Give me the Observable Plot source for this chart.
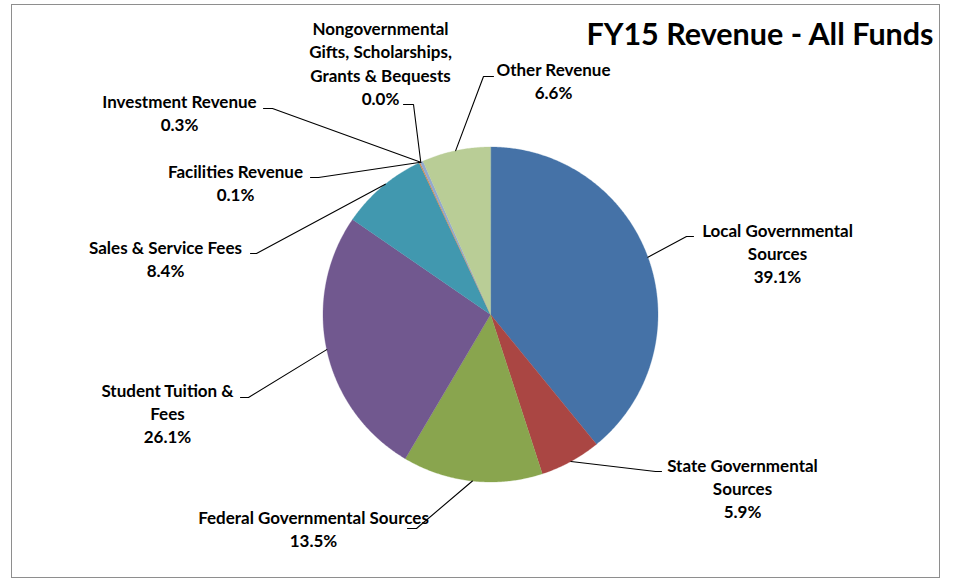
<!DOCTYPE html>
<html>
<head>
<meta charset="utf-8">
<script src="https://cdn.jsdelivr.net/npm/d3@7"></script>
<script src="https://cdn.jsdelivr.net/npm/@observablehq/plot@0.6"></script>
<style>
  html, body { margin: 0; padding: 0; background: #fff; }
  #wrap { position: relative; width: 953px; height: 579px; overflow: hidden; }
  #border { position: absolute; left: 11px; top: 4px; width: 927px; height: 572px; border: 1.5px solid #8e8e8e; box-sizing: content-box; pointer-events: none; }
  #chart { position: absolute; left: 0; top: 0; }
</style>
</head>
<body>
<div id="wrap"><div id="chart"></div><div id="border"></div></div>
<script>
// ---- data ----
const categories = [
  "Local Governmental Sources",
  "State Governmental Sources",
  "Federal Governmental Sources",
  "Student Tuition & Fees",
  "Sales & Service Fees",
  "Facilities Revenue",
  "Investment Revenue",
  "Nongovernmental Gifts, Scholarships, Grants & Bequests",
  "Other Revenue"
];
const shares = [39.1, 5.9, 13.5, 26.1, 8.4, 0.1, 0.3, 0.0, 6.6];
const colors = ["#4572A7", "#AA4643", "#89A54E", "#71588F", "#4198AF", "#DB843D", "#93A9CF", "#D19392", "#B9CD96"];
const titleText = "FY15 Revenue - All Funds";

// ---- layout (label placement, px offsets from pie centre) ----
const labelLayout = [
  {wrap: "Local Governmental\nSources",                 at: 70,    elbow: [196, -78],  end: [203, -78],  pos: [287, -60]},
  {wrap: "State Governmental\nSources",                 at: 151.3, elbow: [165, 157],  end: [171, 157],  pos: [252, 175]},
  {wrap: "Federal Governmental Sources",                at: 186.2, elbow: [-74, 214],  end: [-83, 214],  pos: [-177, 215.5]},
  {wrap: "Student Tuition &\nFees",                     at: 257.9, elbow: [-242, 83],  end: [-250, 83],  pos: [-323, 100]},
  {wrap: "Sales & Service Fees",                        at: 321.1, elbow: [-234, -61], end: [-240, -61], pos: [-325, -54.5]},
  {wrap: "Facilities Revenue",                          at: 335.4, elbow: [-172, -137],end: [-180, -137],pos: [-255, -130.5]},
  {wrap: "Investment Revenue",                          at: 335.4, elbow: [-218, -206],end: [-227, -206],pos: [-311, -200.5]},
  {wrap: "Nongovernmental\nGifts, Scholarships,\nGrants & Bequests", at: 335.4, elbow: [-77, -210], end: [-87, -210], pos: [-110, -250]},
  {wrap: "Other Revenue",                               at: 348,   elbow: [-7, -238],  end: [3, -238],   pos: [63, -232.5]}
];
const W = 953, H = 579, CX = 490, CY = 314, R = 167.5;

// ---- derived geometry ----
const total = d3.sum(shares);
const polar = (deg, r) => [r * Math.sin(deg * Math.PI / 180), -r * Math.cos(deg * Math.PI / 180)];

const slicePts = [];
let acc = 0;
categories.forEach((name, i) => {
  const a0 = acc / total * 360;
  acc += shares[i];
  const a1 = acc / total * 360;
  if (a1 - a0 <= 0) return;
  slicePts.push({name, x: 0, y: 0});
  const n = Math.max(2, Math.ceil((a1 - a0) / 0.5) + 1);
  for (let k = 0; k < n; k++) {
    const a = a0 + (a1 - a0) * k / (n - 1);
    const [x, y] = polar(a, R);
    slicePts.push({name, x, y});
  }
});

const leaderPts = [];
const labels = [];
categories.forEach((name, i) => {
  const L = labelLayout[i];
  const [sx, sy] = polar(L.at, R);
  leaderPts.push({name, x: sx, y: sy});
  leaderPts.push({name, x: L.elbow[0], y: L.elbow[1]});
  leaderPts.push({name, x: L.end[0], y: L.end[1]});
  labels.push({name, x: L.pos[0], y: L.pos[1], text: L.wrap + "\n" + shares[i].toFixed(1) + "%"});
});

const chart = Plot.plot({
  width: W,
  height: H,
  margin: 0,
  style: {fontFamily: "Lato, 'Open Sans', sans-serif", background: "transparent"},
  x: {domain: [-CX, W - CX], range: [0, W], axis: null},
  y: {domain: [-CY, H - CY], range: [0, H], axis: null},
  color: {domain: categories, range: colors},
  marks: [
    Plot.line(slicePts, {x: "x", y: "y", z: "name", fill: "name", stroke: "name", strokeWidth: 0.3, curve: "linear-closed"}),
    Plot.line(leaderPts, {x: "x", y: "y", z: "name", stroke: "#000", strokeWidth: 1.1, curve: "linear"}),
    Plot.text(labels, {x: "x", y: "y", dy: -2, text: "text", lineAnchor: "middle", lineHeight: 1.38, fontSize: 17, fontWeight: "bold", fill: "#000", textAnchor: "middle"}),
    Plot.text([titleText], {frameAnchor: "top-right", dx: -20, dy: 35, text: d => d, lineAnchor: "middle", fontSize: 30.5, fontWeight: "bold", fill: "#000"})
  ]
});
document.getElementById("chart").appendChild(chart);
</script>
</body>
</html>
